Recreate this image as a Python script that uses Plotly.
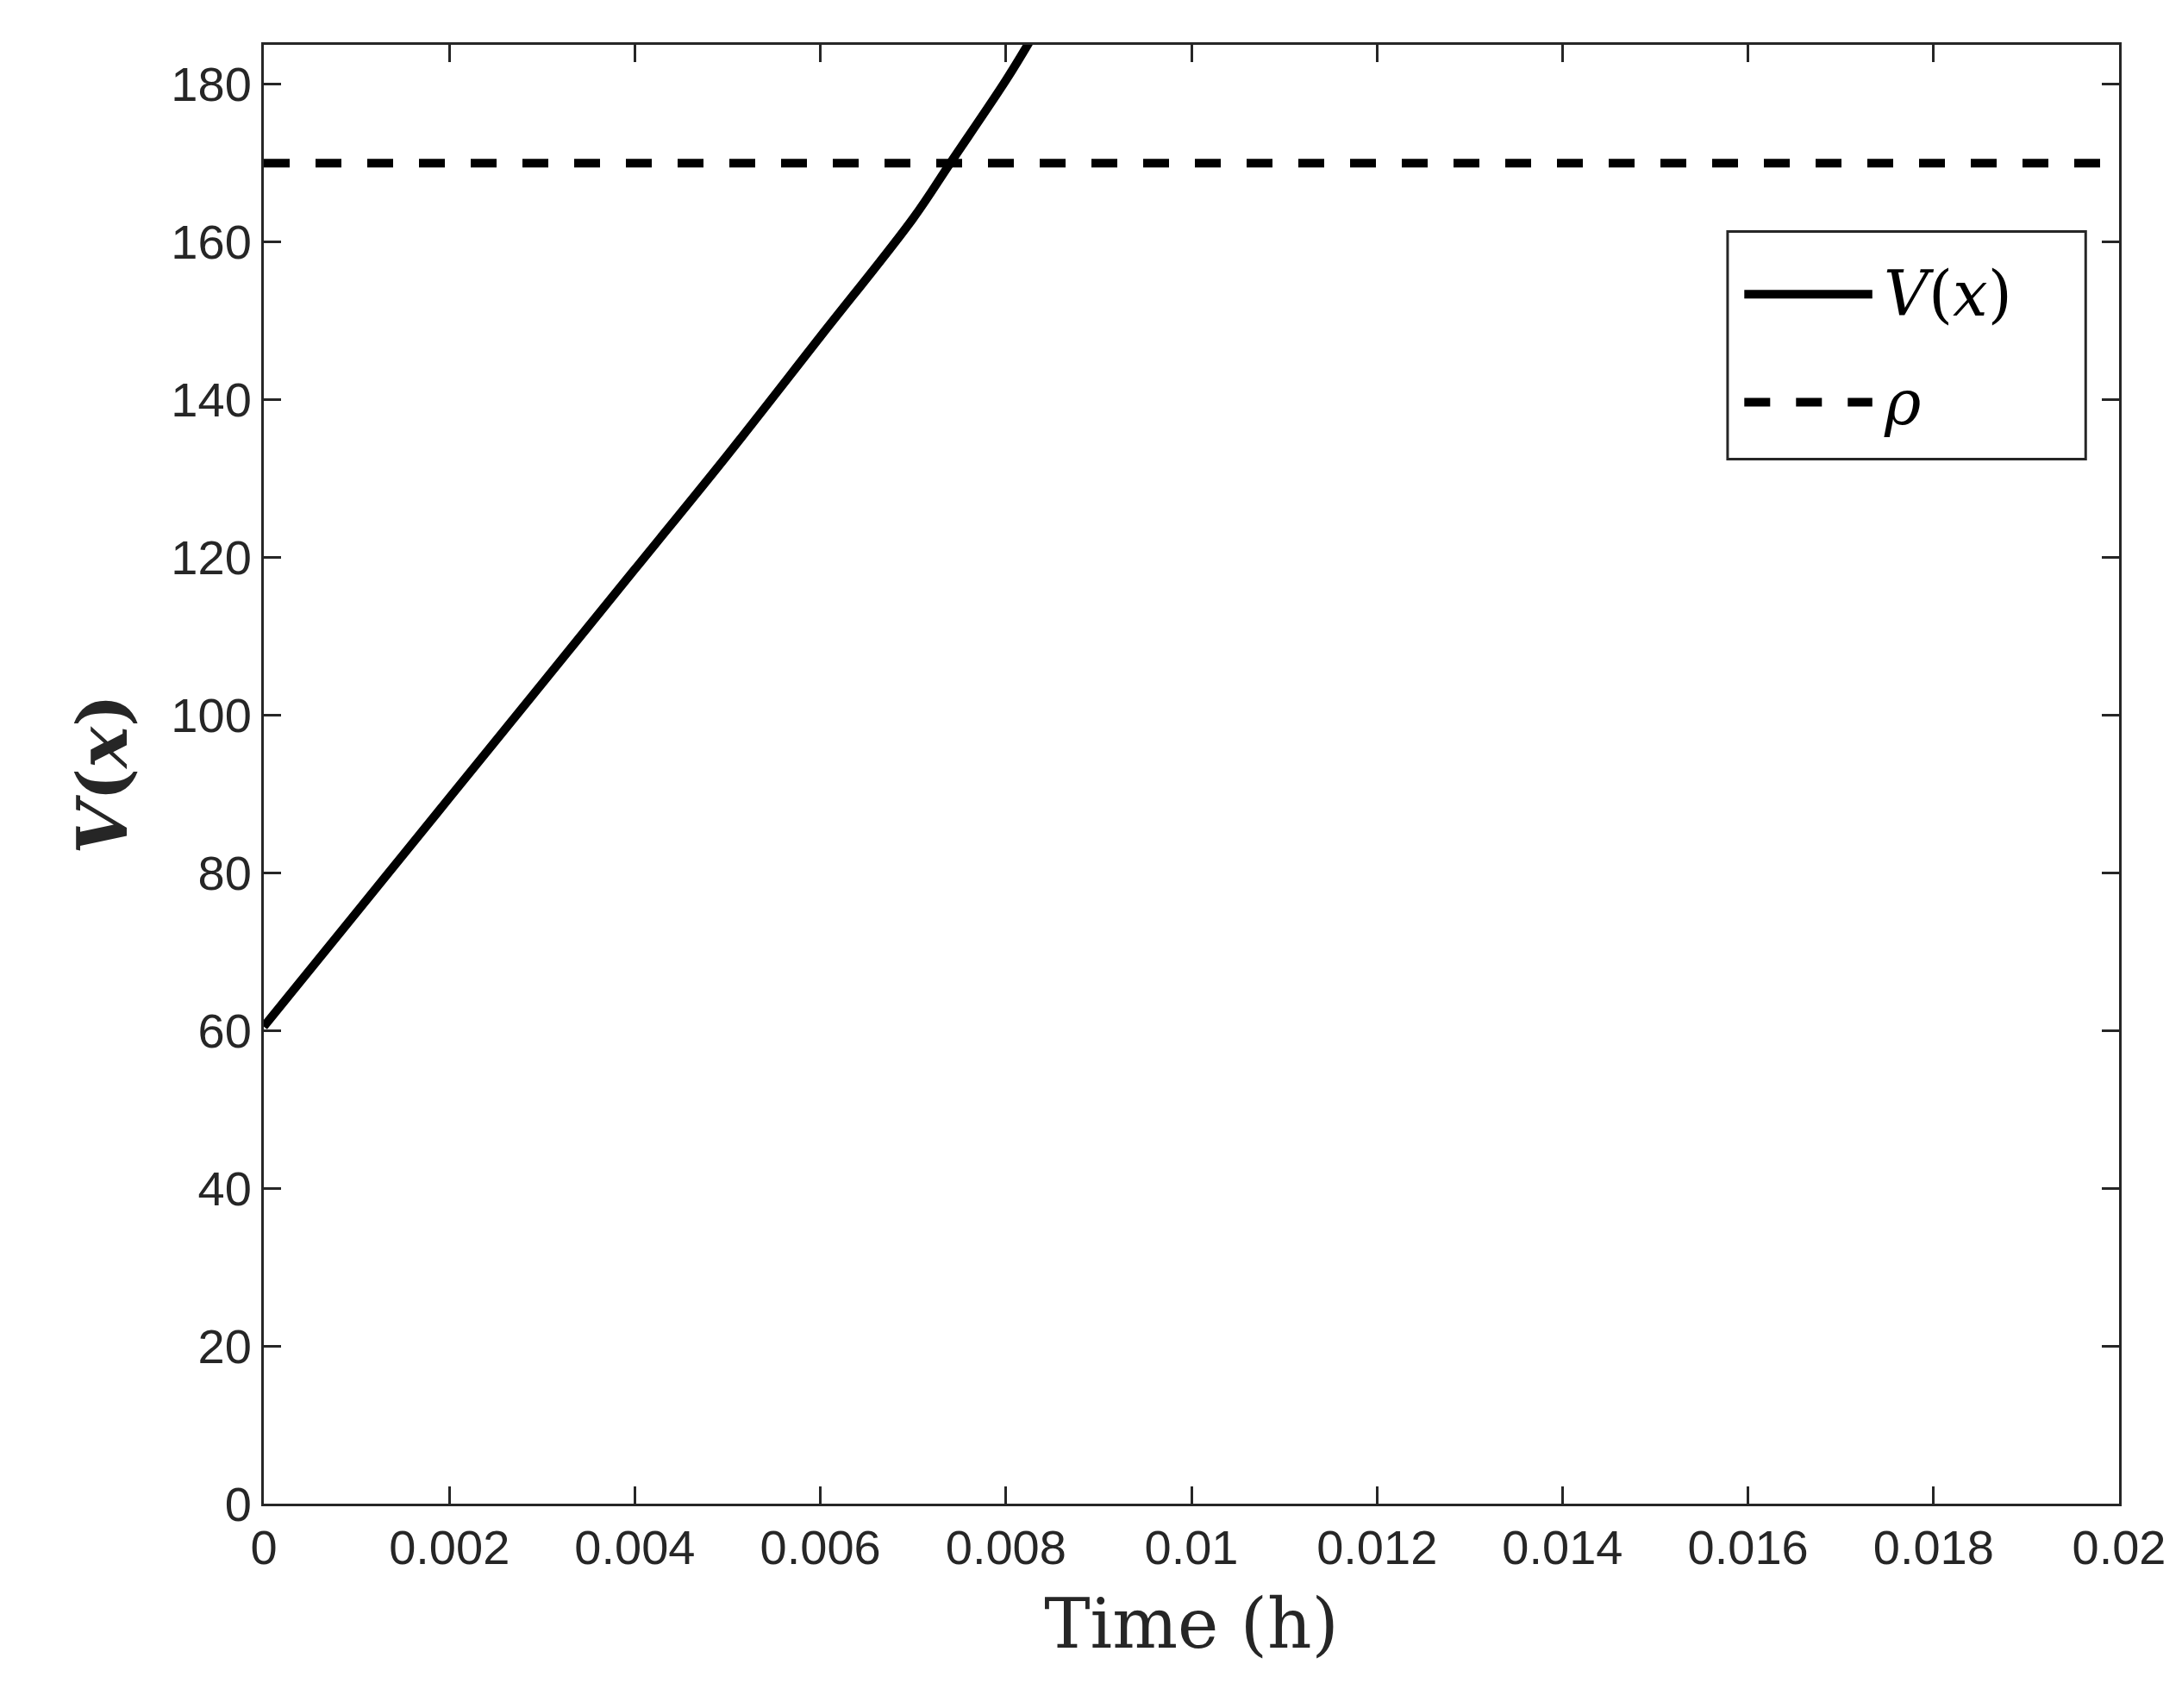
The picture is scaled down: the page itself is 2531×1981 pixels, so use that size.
import plotly.graph_objects as go

t = [0, 0.001, 0.002, 0.003, 0.004, 0.005, 0.006, 0.007, 0.0074, 0.008, 0.00826]
v = [60.5, 75, 89.5, 104, 118.5, 133, 148, 163, 170, 180.5, 185.5]
rho_t = [0, 0.02]
rho_v = [170, 170]
legend_labels = ["<i>V</i>(<i>x</i>)", "<i>ρ</i>"]

fig = go.Figure()
fig.add_trace(go.Scatter(x=t, y=v, mode="lines", line=dict(color="black", width=10, shape="spline"),
                         name=legend_labels[0], showlegend=False))
fig.add_trace(go.Scatter(x=rho_t, y=rho_v, mode="lines",
                         line=dict(color="black", width=10, dash="dash"), name=legend_labels[1], showlegend=False))
ax = dict(showline=True, linecolor="#262626", linewidth=3, mirror="ticks", ticks="inside",
          ticklen=20, tickwidth=3, tickcolor="#262626", showgrid=False, zeroline=False,
          tickfont=dict(family="Liberation Sans", size=56, color="#262626"))
fig.update_xaxes(range=[0, 0.02], dtick=0.002, tickformat="~g",
                 title=dict(text="Time (h)", standoff=30, font=dict(family="DejaVu Serif", size=80, color="#262626")), **ax)
fig.update_yaxes(range=[0, 185], dtick=20,
                 title=dict(text="<b><i>V</i>(<i>x</i>)</b>", standoff=25, font=dict(family="DejaVu Serif", size=80, color="#262626")), **ax)

# custom legend
fig.add_shape(type="rect", xref="paper", yref="paper", x0=0.789, x1=0.982, y0=0.716, y1=0.872,
              line=dict(color="#262626", width=3), fillcolor="white")
for i, (yy, dash) in enumerate([(0.829, "solid"), (0.755, "dash")]):
    fig.add_shape(type="line", xref="paper", yref="paper", x0=0.798, x1=0.867, y0=yy, y1=yy,
                  line=dict(color="black", width=10, dash=dash))
    fig.add_annotation(xref="paper", yref="paper", x=0.872, y=yy, xanchor="left", yanchor="middle",
                       text=legend_labels[i], showarrow=False,
                       font=dict(family="DejaVu Serif", size=72, color="black"))

fig.update_layout(width=2531, height=1981, plot_bgcolor="white", paper_bgcolor="white",
                  margin=dict(l=298, r=81, t=44, b=245))
fig.write_html("out.html")
